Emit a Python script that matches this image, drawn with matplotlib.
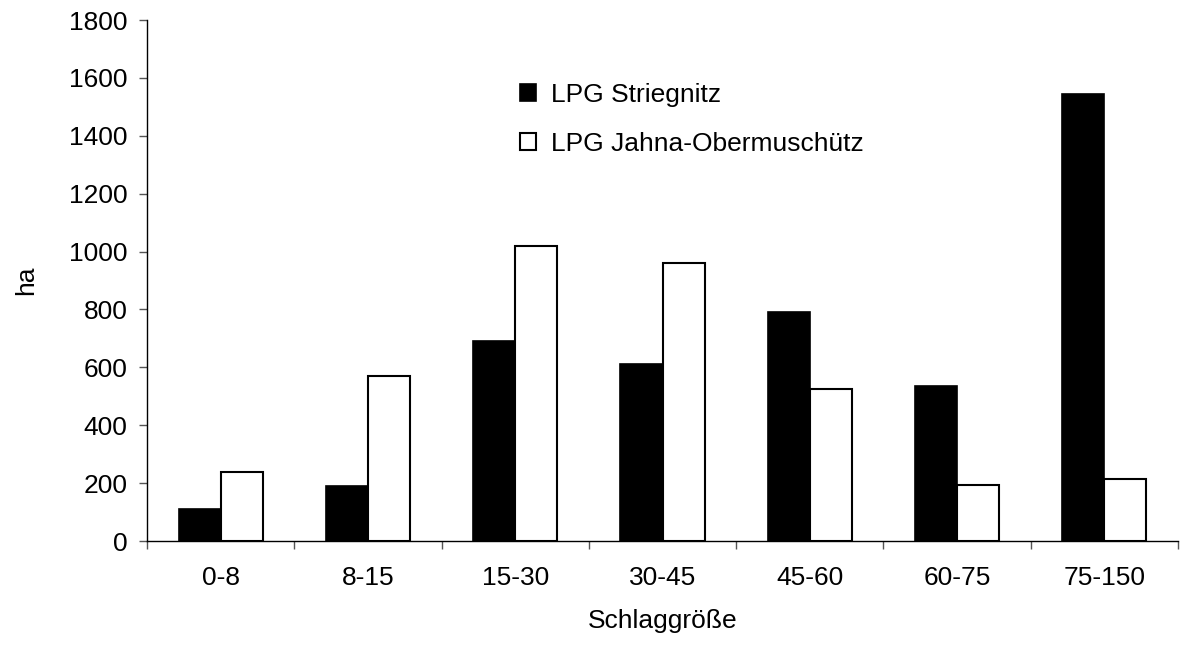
import numpy as np
import matplotlib.pyplot as plt

plt.rcParams['font.family'] = ['Liberation Sans', 'DejaVu Sans']

# data
classes = ['0-8', '8-15', '15-30', '30-45', '45-60', '60-75', '75-150']
striegnitz = [110, 190, 690, 610, 790, 535, 1545]
jahna = [240, 570, 1020, 960, 525, 195, 215]

fs = 19

fig = plt.figure(figsize=(11.82, 6.47), dpi=100)
ax = fig.add_axes([0.1244, 0.1638, 0.8722, 0.8052])

x = np.arange(len(classes))
w = 1 / 3.5
ax.bar(x - w / 2, striegnitz, w, color='black', edgecolor='black', linewidth=1.2,
       label='LPG Striegnitz')
ax.bar(x + w / 2, jahna, w, color='white', edgecolor='black', linewidth=1.5,
       label='LPG Jahna-Obermuschütz')

ax.set_xlim(-0.5, len(classes) - 0.5)
ax.set_ylim(0, 1800)
ax.set_yticks(np.arange(0, 1801, 200))
ax.set_xticks(x)
ax.set_xticklabels(classes)
ax.set_xticks(np.arange(-0.5, len(classes)), minor=True)
ax.tick_params(axis='x', which='major', length=0, pad=18, labelsize=fs)
ax.tick_params(axis='x', which='minor', length=6, width=1, color='#555555')
ax.tick_params(axis='y', length=6, width=1, color='#555555', pad=8, labelsize=fs)

for s in ['top', 'right']:
    ax.spines[s].set_visible(False)
ax.spines['left'].set_linewidth(1)
ax.spines['bottom'].set_linewidth(1)

ax.set_xlabel('Schlaggröße', fontsize=fs, labelpad=14)
ax.set_ylabel('ha', fontsize=fs, labelpad=22)

ax.legend(loc='upper left', bbox_to_anchor=(0.352, 0.9), frameon=False, fontsize=fs,
          handlelength=0.57, handleheight=0.57, handletextpad=0.57, labelspacing=0.95,
          borderaxespad=0)

fig.savefig('out.png', dpi=100)
